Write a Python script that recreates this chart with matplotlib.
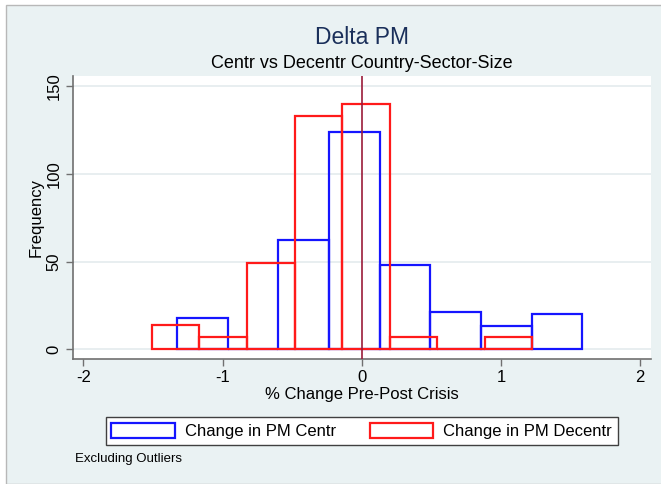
import numpy as np
import matplotlib
matplotlib.use("Agg")
import matplotlib.pyplot as plt
import matplotlib.patches as mpatches

plt.rcParams["font.family"] = ["Liberation Sans", "DejaVu Sans"]
plt.rcParams["axes.unicode_minus"] = False

# ── DATA ─────────────────────────────────────────────────────────────────────
centr_start = -1.328
centr_width = 0.364
centr_counts = [18, 0, 62, 124, 48, 21, 13, 20]

decentr_start = -1.508
decentr_width = 0.3415
decentr_counts = [14, 7, 49, 133, 140, 7, 0, 7]

x_ticks = [-2, -1, 0, 1, 2]
y_ticks = [0, 50, 100, 150]

# ── PALETTE ──────────────────────────────────────────────────────────────────
BLUE = "#1515FF"
RED = "#FF1A1A"
NAVY = "#1A2F5A"
BG = "#EAF2F3"
GRID = "#E6EDEF"
AXIS = "#707070"
VLINE = "#9B1B3A"

fig = plt.figure(figsize=(6.61, 4.84), dpi=100)
fig.patch.set_facecolor("white")
fig.add_artist(mpatches.Rectangle((6 / 661, 0), 1, 1 - 5 / 484,
                                  transform=fig.transFigure, facecolor=BG,
                                  edgecolor="#B8B8B8", linewidth=1.0, zorder=0))

ax = fig.add_axes([0.1097, 0.2576, 0.9853 - 0.1097, 0.843 - 0.2576])
ax.set_facecolor("white")

edges_c = centr_start + centr_width * np.arange(len(centr_counts) + 1)
edges_d = decentr_start + decentr_width * np.arange(len(decentr_counts) + 1)

ax.hist(edges_c[:-1], bins=edges_c, weights=centr_counts, histtype="bar",
        fill=False, edgecolor=BLUE, linewidth=1.6, zorder=3,
        label="Change in PM Centr")
ax.hist(edges_d[:-1], bins=edges_d, weights=decentr_counts, histtype="bar",
        fill=False, edgecolor=RED, linewidth=1.6, zorder=4,
        label="Change in PM Decentr")

ax.axvline(0, color=VLINE, linewidth=1.2, zorder=5)

ax.set_xlim(-2.078, 2.079)
ax.set_ylim(-5.7, 155.7)
ax.set_xticks(x_ticks)
ax.set_yticks(y_ticks)
ax.set_yticklabels([str(v) for v in y_ticks], rotation=90, va="center")
ax.tick_params(axis="both", direction="out", length=5, width=1, color=AXIS,
               labelsize=12, pad=3)
ax.yaxis.grid(True, color=GRID, linewidth=1.3, zorder=0)
ax.set_axisbelow(True)
for s in ["top", "right"]:
    ax.spines[s].set_visible(False)
for s in ["left", "bottom"]:
    ax.spines[s].set_color(AXIS)
    ax.spines[s].set_linewidth(1.2)

ax.set_xlabel("% Change Pre-Post Crisis", fontsize=12, labelpad=1)
ax.set_ylabel("Frequency", fontsize=12, labelpad=2)

# titles are centred over the plot region, not the whole figure
title_x = 362 / 661
fig.text(title_x, 1 - 37 / 484, "Delta PM", ha="center", va="center",
         fontsize=16.5, color=NAVY)
fig.text(title_x, 1 - 63 / 484, "Centr vs Decentr Country-Sector-Size",
         ha="center", va="center", fontsize=13, color="black")

handles = [mpatches.Patch(facecolor="white", edgecolor=BLUE, linewidth=1.6,
                          label="Change in PM Centr"),
           mpatches.Patch(facecolor="white", edgecolor=RED, linewidth=1.6,
                          label="Change in PM Decentr")]
leg = fig.legend(handles=handles, loc="lower left", ncol=2, mode="expand",
                 bbox_to_anchor=(105.5 / 661, 1 - 445 / 484,
                                 (618 - 105.5) / 661, 31 / 484),
                 borderaxespad=0, fontsize=12, handlelength=3.8,
                 handleheight=1.0, handletextpad=0.6, columnspacing=2.0,
                 borderpad=0.35, fancybox=False, framealpha=1,
                 edgecolor="#404040")
leg.get_frame().set_linewidth(1.0)

fig.text(75 / 661, 1 - 459 / 484, "Excluding Outliers", ha="left",
         va="center", fontsize=9.5)

fig.savefig("out.png", dpi=100, facecolor=fig.get_facecolor())
